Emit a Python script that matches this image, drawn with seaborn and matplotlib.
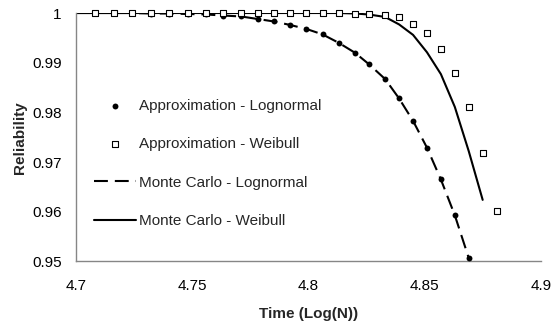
import matplotlib
matplotlib.use("Agg")
import matplotlib.pyplot as plt
import seaborn as sns
import pandas as pd

# ---- data ----
log_n = [4.708, 4.716, 4.724, 4.732, 4.740, 4.748, 4.756, 4.763, 4.771, 4.778,
         4.785, 4.792, 4.799, 4.806, 4.813, 4.820, 4.826, 4.833, 4.839, 4.845,
         4.851, 4.857, 4.863, 4.869, 4.875, 4.881]

approx_weibull = [1.0, 1.0, 1.0, 1.0, 1.0, 1.0, 1.0, 1.0, 1.0, 1.0,
                  1.0, 1.0, 1.0, 1.0, 1.0, 0.9999, 0.9998, 0.9996, 0.9991, 0.9978,
                  0.9959, 0.9927, 0.9879, 0.9810, 0.9719, 0.9601]

approx_lognormal = [1.0, 1.0, 1.0, 0.9999, 0.9999, 0.9998, 0.9997, 0.9994, 0.9993, 0.9988,
                    0.9983, 0.9976, 0.9968, 0.9957, 0.9940, 0.9920, 0.9897, 0.9867, 0.9828, 0.9783,
                    0.9729, 0.9665, 0.9593, 0.9507]

mc_x = [4.700, 4.708, 4.716, 4.724, 4.732, 4.740, 4.748, 4.756, 4.763, 4.771, 4.778,
        4.785, 4.792, 4.799, 4.806, 4.813, 4.820, 4.826, 4.833, 4.839, 4.845,
        4.851, 4.857, 4.863, 4.869, 4.875]

mc_lognormal = [1.0, 1.0, 1.0, 1.0, 0.9999, 0.9999, 0.9998, 0.9997, 0.9995, 0.9993, 0.9988,
                0.9983, 0.9976, 0.9968, 0.9957, 0.9940, 0.9920, 0.9897, 0.9867, 0.9828, 0.9783,
                0.9729, 0.9665, 0.9593, 0.9507]

mc_weibull = [1.0, 1.0, 1.0, 1.0, 1.0, 1.0, 1.0, 1.0, 1.0, 1.0, 1.0,
              1.0, 1.0, 1.0, 1.0, 1.0, 0.9999, 0.9997, 0.9992, 0.9977, 0.9956,
              0.9921, 0.9877, 0.9811, 0.9722, 0.9624]

x_ticks = [4.7, 4.75, 4.8, 4.85, 4.9]
x_tick_labels = ["4.7", "4.75", "4.8", "4.85", "4.9"]
y_ticks = [0.95, 0.96, 0.97, 0.98, 0.99, 1.0]
y_tick_labels = ["0.95", "0.96", "0.97", "0.98", "0.99", "1"]

# ---- style ----
sns.set_theme(style="white")
plt.rcParams["font.family"] = ["Liberation Sans", "DejaVu Sans"]
plt.rcParams["lines.scale_dashes"] = False

fig = plt.figure(figsize=(5.54, 3.31), dpi=100)
ax = fig.add_axes([0.138, 0.21, 0.838, 0.7507])

df_al = pd.DataFrame({"x": log_n[:len(approx_lognormal)], "y": approx_lognormal})
df_aw = pd.DataFrame({"x": log_n, "y": approx_weibull})
df_ml = pd.DataFrame({"x": mc_x[:len(mc_lognormal)], "y": mc_lognormal})
df_mw = pd.DataFrame({"x": mc_x, "y": mc_weibull})

sns.lineplot(data=df_mw, x="x", y="y", ax=ax, color="black", linewidth=1.5,
             estimator=None, sort=False, label="Monte Carlo - Weibull", zorder=2)
sns.lineplot(data=df_ml, x="x", y="y", ax=ax, color="black", linewidth=1.5,
             estimator=None, sort=False, label="Monte Carlo - Lognormal",
             dashes=False, zorder=2)
ax.lines[-1].set_dashes((10, 5))
sns.scatterplot(data=df_al, x="x", y="y", ax=ax, color="black", marker="o", s=18,
                edgecolor="black", linewidth=0, label="Approximation - Lognormal",
                zorder=3, clip_on=False)
sns.scatterplot(data=df_aw, x="x", y="y", ax=ax, marker="s", s=22, facecolor="white",
                edgecolor="black", linewidth=0.8, label="Approximation - Weibull",
                zorder=4, clip_on=False)

ax.set_xlim(4.7, 4.9)
ax.set_ylim(0.95, 1.0)
ax.set_xticks(x_ticks)
ax.set_xticklabels(x_tick_labels)
ax.set_yticks(y_ticks)
ax.set_yticklabels(y_tick_labels)

for side in ["top", "right"]:
    ax.spines[side].set_visible(False)
for side in ["left", "bottom"]:
    ax.spines[side].set_color("#868686")
    ax.spines[side].set_linewidth(1.0)

ax.tick_params(axis="both", which="major", direction="out", length=3.5, width=1.0,
               color="#868686", labelsize=11, labelcolor="black")
ax.tick_params(axis="y", pad=7)
ax.tick_params(axis="x", pad=9)
ax.grid(False)

ax.set_xlabel("Time (Log(N))", fontsize=11, fontweight="bold", labelpad=10)
ax.set_ylabel("Reliability", fontsize=11, fontweight="bold", labelpad=4)

handles, labels = ax.get_legend_handles_labels()
order = ["Approximation - Lognormal", "Approximation - Weibull",
         "Monte Carlo - Lognormal", "Monte Carlo - Weibull"]
hmap = dict(zip(labels, handles))
ax.legend([hmap[k] for k in order], order, loc="upper left",
          bbox_to_anchor=(0.037, 0.655), frameon=False, fontsize=11,
          borderaxespad=0, borderpad=0, handlelength=2.8, handletextpad=0.2,
          labelspacing=1.6)

fig.savefig("out.png", dpi=100)
